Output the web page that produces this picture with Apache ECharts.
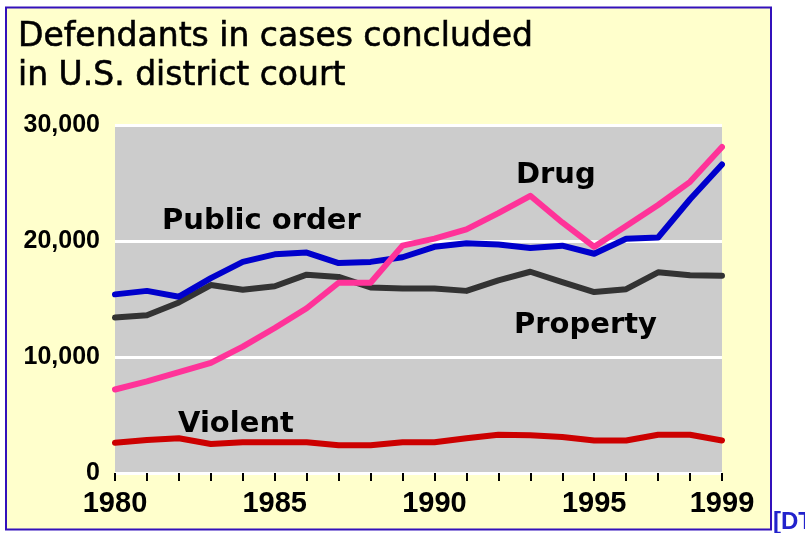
<!DOCTYPE html>
<html>
<head>
<meta charset="utf-8">
<script src="https://cdn.jsdelivr.net/npm/echarts@6/dist/echarts.min.js"></script>
<style>
html,body{margin:0;padding:0;background:#ffffff;}
#chart{width:805px;height:533px;}
</style>
</head>
<body>
<div id="chart"></div>
<script>
const years = ['1980','1981','1982','1983','1984','1985','1986','1987','1988','1989','1990','1991','1992','1993','1994','1995','1996','1997','1998','1999'];
const shownYears = ['1980','1985','1990','1995','1999'];
const yTicks = [0, 10000, 20000, 30000];
const violent = [2600,2850,3000,2500,2650,2650,2650,2400,2400,2650,2650,3000,3300,3250,3100,2800,2800,3300,3300,2800];
const property = [13400,13600,14700,16200,15800,16100,17100,16900,16000,15900,15900,15700,16600,17350,16450,15600,15850,17300,17050,17000];
const publicOrder = [15400,15700,15200,16800,18200,18850,19000,18100,18200,18600,19500,19800,19700,19400,19600,18900,20200,20300,23600,26600];
const drug = [7200,7900,8700,9500,10900,12500,14200,16400,16400,19600,20200,21000,22400,23900,21600,19500,21300,23100,25100,28100];
const seriesNames = ['Violent','Property','Public order','Drug'];

const chart = echarts.init(document.getElementById('chart'), null, {renderer:'canvas'});
const labelFont = "bold 29px 'DejaVu Sans', sans-serif";
const mkLine = (name, data, color) => ({
  name, type:'line', data, symbol:'none', smooth:false,
  lineStyle:{color, width:6, join:'round', cap:'round'},
  itemStyle:{color}, silent:true
});
chart.setOption({
  backgroundColor:'#ffffff',
  animation:false,
  title:{
    text:'Defendants in cases concluded\nin U.S. district court',
    left:18, top:18, padding:0,
    textStyle:{fontFamily:"'DejaVu Sans', sans-serif", fontSize:33, fontWeight:'normal', color:'#000000', lineHeight:39, textBorderColor:'#000000', textBorderWidth:0.6}
  },
  grid:{left:115, right:83, top:125, bottom:60, show:true, backgroundColor:'#cccccc', borderWidth:0},
  xAxis:{
    type:'category', data:years, boundaryGap:false,
    axisLine:{show:false},
    axisTick:{show:true, interval:0, length:8, inside:false, lineStyle:{color:'#000000', width:2}},
    axisLabel:{
      interval:0, margin:16,
      formatter:(v)=> shownYears.includes(v) ? v : '',
      fontFamily:"'Liberation Sans Narrow','Arial Narrow','Liberation Sans',sans-serif",
      fontSize:29, fontWeight:'bold', color:'#000000'
    },
    splitLine:{show:false}
  },
  yAxis:{
    type:'value', min:yTicks[0], max:yTicks[yTicks.length-1], interval:10000,
    axisLine:{show:false}, axisTick:{show:false},
    axisLabel:{
      margin:15,
      formatter:(v)=> v.toLocaleString('en-US'),
      fontFamily:"'Liberation Sans',Arial,sans-serif", fontSize:25, fontWeight:'bold', color:'#000000'
    },
    splitLine:{show:true, lineStyle:{color:'#ffffff', width:3}}
  },
  series:[
    mkLine(seriesNames[0], violent, '#cc0000'),
    mkLine(seriesNames[1], property, '#333333'),
    mkLine(seriesNames[2], publicOrder, '#0000cc'),
    mkLine(seriesNames[3], drug, '#ff3399')
  ],
  graphic:[
    {type:'rect', z:-10, shape:{x:6, y:7.5, width:765, height:522}, style:{fill:'#ffffcc', stroke:'#3311bb', lineWidth:2}, silent:true},
    {type:'text', z:100, style:{x:162, y:221, text:seriesNames[2], font:labelFont, fill:'#000000', textVerticalAlign:'middle'}},
    {type:'text', z:100, style:{x:516, y:175, text:seriesNames[3], font:labelFont, fill:'#000000', textVerticalAlign:'middle'}},
    {type:'text', z:100, style:{x:514, y:325, text:seriesNames[1], font:labelFont, fill:'#000000', textVerticalAlign:'middle'}},
    {type:'text', z:100, style:{x:178, y:424, text:seriesNames[0], font:labelFont, fill:'#000000', textVerticalAlign:'middle'}},
    {type:'text', z:100, style:{x:773, y:522, text:'[DT]', font:"bold 24px 'Liberation Sans', Arial, sans-serif", fill:'#2222cc', textVerticalAlign:'middle'}}
  ]
});
</script>
</body>
</html>
